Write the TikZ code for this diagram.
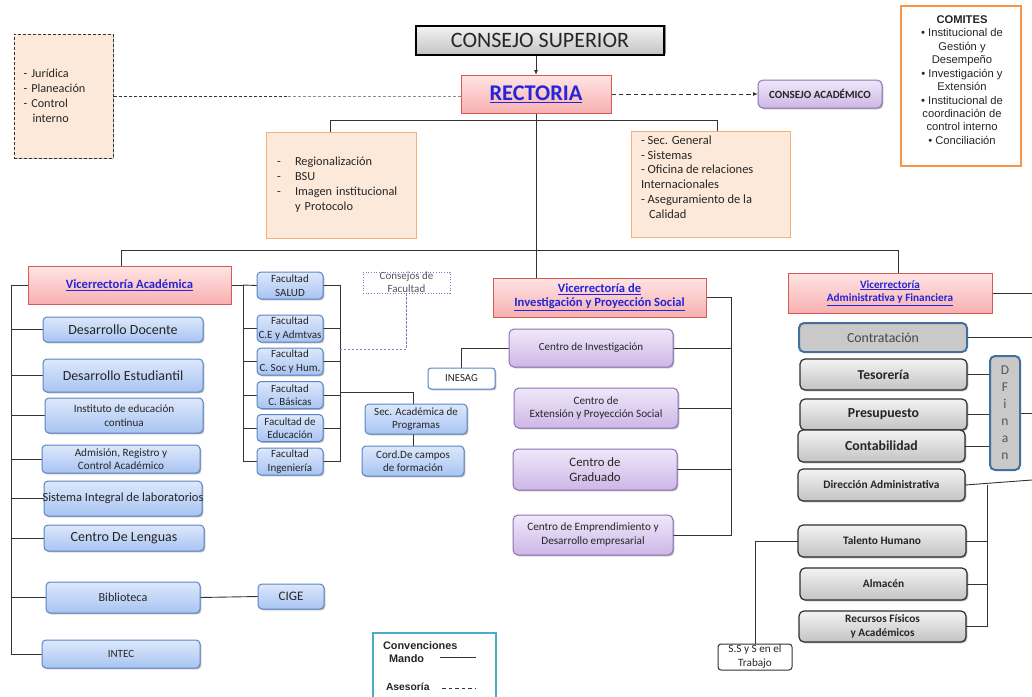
\documentclass[tikz,border=0pt]{standalone}
\usepackage{fontspec}
\setmainfont{Carlito}
\newfontfamily\arialf{Liberation Sans}
\usetikzlibrary{shadows,arrows.meta}
\newcommand\fsz[2]{\fontsize{#1}{#2}\selectfont}
\definecolor{txt}{HTML}{262626}
\definecolor{lnk}{HTML}{2424D8}
\definecolor{pinktop}{HTML}{FFE4E4}
\definecolor{pinkbot}{HTML}{F7B0B0}
\definecolor{pinkline}{HTML}{D65A5A}
\definecolor{bluetop}{HTML}{DDE8FB}
\definecolor{bluebot}{HTML}{A8C4F2}
\definecolor{blueline}{HTML}{5A86C5}
\definecolor{purptop}{HTML}{F0E8FA}
\definecolor{purpbot}{HTML}{CDB7E6}
\definecolor{purpline}{HTML}{8C73B8}
\definecolor{graytop}{HTML}{F3F3F3}
\definecolor{graybot}{HTML}{C3C3C3}
\definecolor{grayline}{HTML}{2E2E2E}
\definecolor{flatgray}{HTML}{C9C9C9}
\definecolor{steel}{HTML}{41719C}
\definecolor{peach}{HTML}{FDE9DA}
\definecolor{peachline}{HTML}{F5B07A}
\definecolor{orangeline}{HTML}{F79646}
\definecolor{cyanline}{HTML}{4BACC6}
\definecolor{connc}{HTML}{333333}
\definecolor{dotpurple}{HTML}{9B6FD0}
\definecolor{fgray}{HTML}{555555}
\pgfdeclarelayer{bg}
\pgfsetlayers{bg,main}
\tikzset{
  wh/.style 2 args={minimum width=#1pt, minimum height=#2pt},
  base/.style={draw, rounded corners=4pt, inner sep=1pt, outer sep=0pt, align=center, text=txt, line width=1pt},
  shad/.style={drop shadow={shadow xshift=1.3pt, shadow yshift=-1.3pt, opacity=0.28, fill=black}},
  pinkbox/.style={base, shad, rounded corners=0pt, draw=pinkline, top color=pinktop, bottom color=pinkbot, text=lnk},
  bluebox/.style={base, shad, draw=blueline, top color=bluetop, bottom color=bluebot},
  facbox/.style={bluebox, inner sep=0pt, minimum width=66pt, minimum height=27pt, font=\fsz{11}{13.5}},
  purplebox/.style={base, shad, rounded corners=5pt, draw=purpline, top color=purptop, bottom color=purpbot},
  graybox/.style={base, shad, rounded corners=5pt, draw=grayline, line width=1.2pt, top color=graytop, bottom color=graybot},
  peachbox/.style={base, shad, rounded corners=0pt, draw=peachline, fill=peach},
  steelbox/.style={base, rounded corners=5pt, draw=steel, line width=2pt, fill=flatgray, text=fgray},
  csbox/.style={base, rounded corners=0pt, draw=black, line width=1.5pt, top color=graytop, bottom color=graybot,
     drop shadow={shadow xshift=1.5pt, shadow yshift=1.5pt, opacity=0.45, fill=black}},
  conn/.style={draw=connc, line width=0.9pt},
  ases/.style={draw=connc, line width=0.9pt, dash pattern=on 3pt off 2pt},
  plain/.style={inner sep=0pt, outer sep=0pt, text=txt},
}
\begin{document}
\begin{tikzpicture}[x=1pt,y=-1pt]
\useasboundingbox (0,0) rectangle (1032,696);
\begin{pgfonlayer}{bg}
\fill[white] (0,0) rectangle (1032,696);
\end{pgfonlayer}

% ---------- top ----------
\node[csbox, wh={248}{29}, font=\fsz{22}{24}] (cs) at (540,40.5) {CONSEJO SUPERIOR};
\node[pinkbox, wh={150}{38}, font=\fsz{22.4}{24}\bfseries] (rect) at (536,94) {\underline{RECTORIA}};
\node[purplebox, wh={124}{28}, font=\fsz{11}{13}\bfseries] (ca) at (820,94) {CONSEJO ACADÉMICO};
\node[base, shad, rounded corners=0pt, draw=connc, dash pattern=on 3pt off 2pt, fill=peach, wh={99}{124},
      text width=80pt, align=left, inner xsep=9.5pt, font=\fsz{12.2}{15}] (asesb) at (63.5,96)
      {- Jurídica\\- Planeación\\- Control\\\hspace*{9pt}interno};
\node[peachbox, wh={150}{106}, text width=128pt, align=left, inner xsep=11pt, font=\fsz{12.3}{15}] (staffL) at (341,185)
      {\makebox[18pt][l]{-}Regionalización\\\makebox[18pt][l]{-}BSU\\\makebox[18pt][l]{-}Imagen institucional\\\hspace*{18pt}y Protocolo};
\node[peachbox, wh={159}{106}] (staffR) at (710.5,184) {};
\node[plain, anchor=west, align=left, font=\fsz{12.5}{14.8}] (staffRt) at (641,177)
      {- Sec. General\\- Sistemas\\- Oficina de relaciones\\Internacionales\\- Aseguramiento de la\\\hspace*{8pt}Calidad};
\node[draw=orangeline, line width=2.5pt, fill=white, wh={120}{160}] (com) at (961,86) {};
\node[plain, align=center, font=\arialf\fsz{11.2}{13.45}] (comt) at (962,80)
      {\textbf{COMITES}\\• Institucional de\\Gestión y\\Desempeño\\• Investigación y\\Extensión\\• Institucional de\\coordinación de\\control interno\\• Conciliación};

% ---------- Vicerrectoria Academica ----------
\node[pinkbox, wh={203}{38}, font=\fsz{12.6}{14}\bfseries] (va) at (129.5,285) {\underline{Vicerrectoría Académica}};
\node[bluebox, wh={160}{25}, font=\fsz{14}{15}] (dd) at (123,329.5) {Desarrollo Docente};
\node[bluebox, wh={160}{33}, font=\fsz{13.9}{15}] (de) at (123,375.5) {Desarrollo Estudiantil};
\node[bluebox, wh={158}{35}, font=\fsz{11.1}{13.8}] (iec) at (124,415.5) {Instituto de educación\\continua};
\node[bluebox, wh={158}{28}, font=\fsz{11.2}{13.2}, inner sep=0pt] (arc) at (121,459) {Admisión, Registro y\\Control Académico};
\node[bluebox, wh={158}{35}, font=\fsz{12.5}{14}] (sil) at (123,498.5) {\makebox[150pt][c]{Sistema Integral de laboratorios}};
\node[bluebox, wh={160}{26}, font=\fsz{14}{15}] (cdl) at (124,538) {Centro De Lenguas};
\node[bluebox, wh={154}{31}, font=\fsz{12.2}{14}] (bib) at (123,597.5) {Biblioteca};
\node[bluebox, wh={158}{28}, font=\fsz{11}{12}] (intec) at (121,654) {INTEC};
\node[bluebox, wh={66}{25}, font=\fsz{13}{14}] (cige) at (291,596.5) {CIGE};

% faculties
\node[facbox] (fs) at (290,285.5) {Facultad\\SALUD};
\node[facbox] (fce) at (290,328.5) {Facultad\\C.E y Admtvas};
\node[facbox] (fsoc) at (290,361.5) {Facultad\\C. Soc y Hum.};
\node[facbox] (fbas) at (290,395) {Facultad\\C. Básicas};
\node[facbox] (fedu) at (290,428) {Facultad de\\Educación};
\node[facbox] (fing) at (290,461.5) {Facultad\\Ingeniería};
\node[bluebox, wh={102}{30}, font=\fsz{11}{13}, inner sep=0pt] (sap) at (416,419) {Sec. Académica de\\Programas};
\node[bluebox, wh={102}{30}, font=\fsz{11.1}{13.5}, inner sep=0pt] (cord) at (413,461) {Cord.De campos\\de formación};
\node[draw=dotpurple, dotted, line width=0.7pt, fill=white, wh={87}{21}, inner sep=0pt] (cf) at (406.5,282.5) {};
\node[plain, align=center, text=fgray, font=\fsz{11}{12.8}] (cft) at (cf.center) {Consejos de\\Facultad};

% ---------- Vicerrectoria Investigacion ----------
\node[pinkbox, wh={213}{39}, font=\fsz{12.6}{14}\bfseries] (vips) at (599.5,297.5)
      {\underline{Vicerrectoría de}\\\underline{Investigación y Proyección Social}};
\node[purplebox, wh={164}{38}, font=\fsz{11}{12}] (ci) at (591,348) {Centro de Investigación};
\node[base, shad, draw=blueline, fill=white, rounded corners=3pt, wh={67}{21}, font=\fsz{10.8}{12}] (inesag) at (461.5,378.5) {INESAG};
\node[purplebox, wh={164}{40}, font=\fsz{11.2}{13.8}] (cext) at (596,408) {Centro de\\Extensión y Proyección Social};
\node[purplebox, wh={164}{41}, font=\fsz{12.8}{14.5}] (cgrad) at (595,469.5) {Centro de\\Graduado};
\node[purplebox, wh={160}{40}, font=\fsz{11.2}{14}] (cemp) at (593,535) {Centro de Emprendimiento y\\Desarrollo empresarial};

% ---------- Vicerrectoria Administrativa ----------
\node[pinkbox, wh={204}{40}, font=\fsz{11.2}{13.8}\bfseries] (vaf) at (890,293)
      {\underline{Vicerrectoría}\\\underline{Administrativa y Financiera}};
\node[steelbox, wh={168}{29}, font=\fsz{13.8}{15}, text=txt!85] (contr) at (883,337.5) {Contratación};
\node[graybox, wh={167}{31}, font=\fsz{13.6}{15}\bfseries] (teso) at (883.5,374.5) {Tesorería};
\node[graybox, wh={167}{31}, font=\fsz{13.8}{15}\bfseries] (presu) at (883.5,414.5) {Presupuesto};
\node[graybox, wh={167}{32}, font=\fsz{13.8}{15}\bfseries] (conta) at (881.5,446) {Contabilidad};
\node[steelbox, wh={30}{114}, font=\fsz{13.5}{17}] (dfin) at (1005,413) {D\\F\\i\\n\\a\\n};
\node[graybox, wh={167}{32}, font=\fsz{11.4}{13}\bfseries] (dira) at (881.5,485) {Dirección Administrativa};
\node[graybox, wh={168}{32}, font=\fsz{11.4}{13}\bfseries] (th) at (882,541) {Talento Humano};
\node[graybox, wh={167}{32}, font=\fsz{11.4}{13}\bfseries] (alm) at (883.5,584) {Almacén};
\node[graybox, wh={167}{31}, font=\fsz{11.3}{13.5}\bfseries, inner sep=0pt] (rf) at (882.5,626.5) {Recursos Físicos\\y Académicos};
\node[base, draw=connc, fill=white, rounded corners=3pt, wh={74}{26}] (ss) at (755,657) {};
\node[plain, align=center, font=\fsz{11.2}{14}] (sst) at (ss.center) {S.S y S en el\\Trabajo};

% ---------- legend ----------
\node[draw=cyanline, line width=2pt, fill=white, wh={123}{76}] (conv) at (434.5,671) {};
\node[plain, anchor=west, font=\arialf\bfseries\fsz{10.9}{12}] (cv1) at (383,646) {Convenciones};
\node[plain, anchor=west, font=\arialf\bfseries\fsz{10.9}{12}] (cv2) at (389,659) {Mando};
\node[plain, anchor=west, font=\arialf\bfseries\fsz{10.3}{12}] (cv3) at (386,687) {Asesoría};
\coordinate (m1) at (440,657); \coordinate (m2) at (476,657);
\coordinate (a1) at (442,688); \coordinate (a2) at (476,688);
\draw[conn] (m1) -- (m2);
\draw[conn, dash pattern=on 3.5pt off 3pt] (a1) -- (a2);

% ---------- connectors ----------
\coordinate (sb1) at (330,120); \coordinate (sb2) at (717,120);
\coordinate (bL) at (121,250); \coordinate (bR) at (898,250);
\coordinate (lx) at (11,0); \coordinate (fl) at (243,0); \coordinate (fr) at (340,0);
\coordinate (sj) at (413,392); \coordinate (cfk) at (406.5,349);
\coordinate (vr) at (731,0); \coordinate (e1) at (1032,0); \coordinate (e2) at (1032,480);
\coordinate (ax) at (987,0); \coordinate (ad) at (287,96);
\begin{pgfonlayer}{bg}
\draw[conn, -{Latex[length=5pt,width=4pt]}] (cs.south -| rect.north) -- (rect.north);
\draw[ases, -{Latex[length=5pt,width=4pt]}, dash pattern=on 4.5pt off 3pt] (rect.east) -- (ca.west);
\draw[ases, draw=black!45] (rect.west |- ad) -- (ad);
\draw[ases] (ad) -- (asesb.east |- ad);
\draw[conn] (rect.south) -- (rect.south |- vips.north);
\draw[conn] (staffL.north -| sb1) -- (sb1) -- (sb2) -- (staffR.north -| sb2);
\draw[conn] (va.north -| bL) -- (bL) -- (bR) -- (vaf.north -| bR);
% left column
\draw[conn] (va.west) -- (va.west -| lx) -- (intec.west -| lx) -- (intec.west);
\foreach \n in {dd,de,iec,arc,sil,cdl,bib} { \draw[conn] (\n.west -| lx) -- (\n.west); }
\draw[conn] (bib.east) -- (cige.west);
% faculties
\draw[conn] (va.east) -- (va.east -| fl) -- (fing.west -| fl) -- (fing.west);
\draw[conn] (va.east -| fl) -- (fs.west);
\foreach \n in {fce,fsoc,fbas,fedu} { \draw[conn] (\n.west -| fl) -- (\n.west); }
\draw[conn] (fs.east) -- (fs.east -| fr) -- (fing.east -| fr) -- (fing.east);
\foreach \n in {fce,fsoc,fbas,fedu} { \draw[conn] (\n.east) -- (\n.east -| fr); }
\draw[conn] (sj -| fr) -- (sj) -- (sj |- sap.north);
\draw[conn] (sj |- sap.south) -- (sj |- cord.north);
\draw[draw=dotpurple, line width=0.9pt, dash pattern=on 2.5pt off 1.5pt] (cf.south) -- (cfk) -- (cfk -| fr);
% research
\draw[conn] (vips.east) -- (vips.east -| vr) -- (cemp.east -| vr) -- (cemp.east);
\foreach \n in {ci,cext,cgrad} { \draw[conn] (\n.east) -- (\n.east -| vr); }
\draw[conn] (ci.west) -- (ci.west -| inesag.north) -- (inesag.north);
% administrative
\draw[conn] (vaf.east) -- (vaf.east -| e1);
\draw[conn] (contr.east) -- (contr.east -| e1);
\draw[conn] (dfin.east) -- (dfin.east -| e1);
\draw[conn] (dira.east) -- (e2);
\foreach \n in {teso,presu,conta} { \draw[conn] (\n.east) -- (\n.east -| dfin.west); }
\draw[conn] (dira.east -| ax) -- (rf.east -| ax) -- (rf.east);
\foreach \n in {th,alm} { \draw[conn] (\n.east) -- (\n.east -| ax); }
\draw[conn] (th.west) -- (th.west -| ss.north) -- (ss.north);
\end{pgfonlayer}
\end{tikzpicture}
\end{document}
